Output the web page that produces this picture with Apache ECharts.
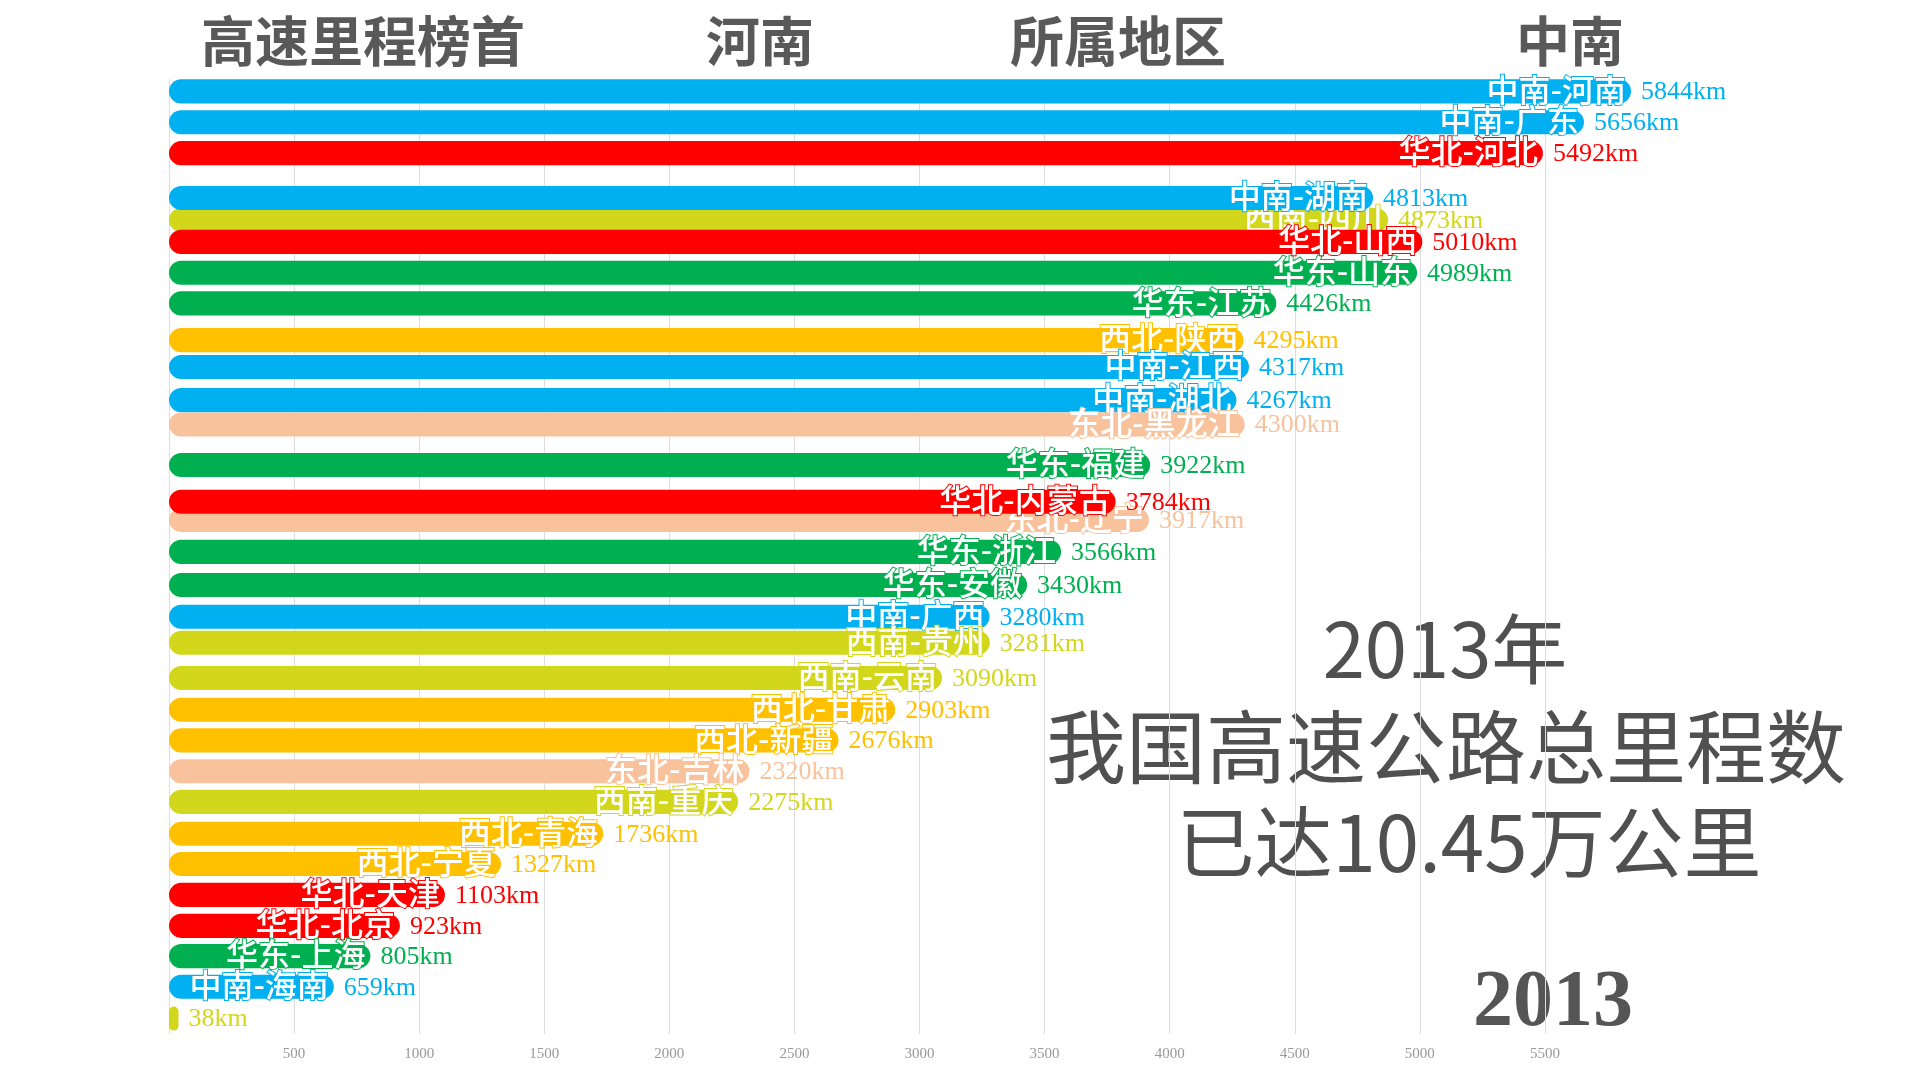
<!DOCTYPE html>
<html>
<head>
<meta charset="utf-8">
<script src="https://cdn.jsdelivr.net/npm/echarts@6/dist/echarts.min.js"></script>
<style>
html,body{margin:0;padding:0;background:#fff;}
#chart{width:1920px;height:1080px;}
</style>
</head>
<body>
<div id="chart"></div>
<script>
// Draw order (bars later in the list are painted on top)
const provinces = ['河南','广东','河北','四川','湖南','山东','山西','江苏','陕西','江西','湖北','黑龙江','福建','辽宁','内蒙古','浙江','安徽','广西','贵州','云南','甘肃','新疆','吉林','重庆','青海','宁夏','天津','北京','上海','海南','西藏'];
const regions   = ['中南','中南','华北','西南','中南','华东','华北','华东','西北','中南','中南','东北','华东','东北','华北','华东','华东','中南','西南','西南','西北','西北','东北','西南','西北','西北','华北','华北','华东','中南','西南'];
const values    = [5844,5656,5492,4873,4813,4989,5010,4426,4295,4317,4267,4300,3922,3917,3784,3566,3430,3280,3281,3090,2903,2676,2320,2275,1736,1327,1103,923,805,659,38];
// vertical (animated) rank position of each bar, read from the frame
const ranks     = [0,1,2,4.16,3.45,5.87,4.87,6.86,8.05,8.92,9.99,10.78,12.09,13.87,13.28,14.9,15.97,17.0,17.84,18.98,20.01,21.0,22.0,22.99,24.02,25.0,26.0,27.0,27.98,28.97,30];
const regionColors = {'中南':'#00b0f0','华北':'#ff0000','华东':'#00b050','西北':'#ffc000','西南':'#d3d71c','东北':'#f8c29c'};
const year = '2013';
const leader = '河南';
const leaderRegion = '中南';
const xTicks = {interval:500};

const data = values.map((v,i)=>[v, ranks[i], i]);

const chart = echarts.init(document.getElementById('chart'));
chart.setOption({
  animation:false,
  backgroundColor:'#ffffff',
  grid:{left:169, right:289, top:79, bottom:46},
  xAxis:{
    type:'value', min:0, max:'dataMax', interval:xTicks.interval,
    axisLine:{show:false}, axisTick:{show:false},
    axisLabel:{showMinLabel:false, showMaxLabel:false, color:'#999', fontFamily:'Liberation Serif', fontSize:15, margin:13,
               formatter:function(v){return String(v);}},
    splitLine:{show:true, showMaxLine:false, lineStyle:{color:'#dddddd', width:1}}
  },
  yAxis:{
    type:'value', min:-0.4, max:30.5, inverse:true, show:false,
    splitLine:{show:false}
  },
  series:[{
    type:'custom',
    encode:{x:0, y:1},
    data:data,
    renderItem:function(params, api){
      const v = api.value(0), r = api.value(1), idx = api.value(2);
      const c = regionColors[regions[idx]];
      const s = api.coord([0, r]);
      const e = api.coord([v, r]);
      const h = api.size([0,1])[1]*0.78;
      const w = Math.max(e[0]-s[0], 1);
      const children = [{
        type:'rect',
        shape:{x:s[0], y:s[1]-h/2, width:w, height:h, r:h/2},
        style:{fill:c}
      }];
      const name = regions[idx]+'-'+provinces[idx];
      if (w > 150) {
        children.push({
          type:'text', x:e[0]-5, y:e[1]-2,
          style:{text:name, fill:'#ffffff', stroke:c, lineWidth:2, align:'right', verticalAlign:'middle',
                 font:'500 32px "Noto Sans CJK SC"'}
        });
      }
      children.push({
        type:'text', x:e[0]+10, y:e[1]+1,
        style:{text:v+'km', fill:c, align:'left', verticalAlign:'middle', font:'26px "Liberation Serif"'}
      });
      return {type:'group', children:children};
    }
  }],
  graphic:[
    {type:'text', x:363, y:41, style:{text:'高速里程榜首', fill:'#595959', align:'center', verticalAlign:'middle', font:'bold 54px "Noto Sans CJK SC"'}},
    {type:'text', x:760, y:41, style:{text:leader, fill:'#595959', align:'center', verticalAlign:'middle', font:'bold 54px "Noto Sans CJK SC"'}},
    {type:'text', x:1118, y:41, style:{text:'所属地区', fill:'#595959', align:'center', verticalAlign:'middle', font:'bold 54px "Noto Sans CJK SC"'}},
    {type:'text', x:1570, y:41, style:{text:leaderRegion, fill:'#595959', align:'center', verticalAlign:'middle', font:'bold 54px "Noto Sans CJK SC"'}},
    {type:'text', x:1445, y:649, style:{text:year+'年', fill:'#505050', align:'center', verticalAlign:'middle', font:'400 76px "Noto Sans CJK SC"'}},
    {type:'text', x:1446, y:747, style:{text:'我国高速公路总里程数', fill:'#505050', align:'center', verticalAlign:'middle', font:'400 80px "Noto Sans CJK SC"'}},
    {type:'text', x:1469, y:842, style:{text:'已达10.45万公里', fill:'#505050', align:'center', verticalAlign:'middle', font:'400 78px "Noto Sans CJK SC"'}},
    {type:'text', x:1553, y:1004, style:{text:year, fill:'#555555', align:'center', verticalAlign:'middle', font:'bold 80px "Liberation Serif"'}}
  ]
});
</script>
</body>
</html>
